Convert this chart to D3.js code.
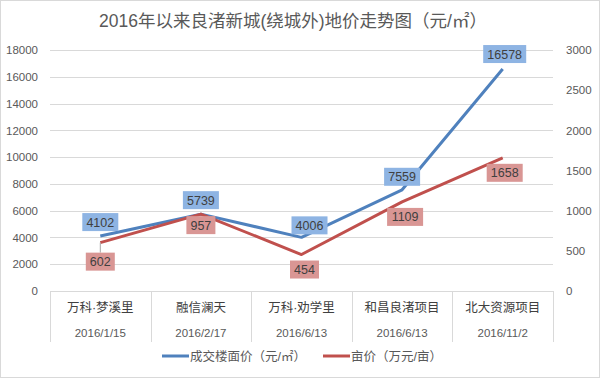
<!DOCTYPE html>
<html><head><meta charset="utf-8">
<script src="https://cdn.jsdelivr.net/npm/d3@7"></script>
<style>body{margin:0;background:#fff}svg{display:block}</style>
</head><body>
<script>
const title = "2016年以来良渚新城(绕城外)地价走势图（元/㎡）";
const categories = ["万科·梦溪里","融信澜天","万科·劝学里","和昌良渚项目","北大资源项目"];
const dates = ["2016/1/15","2016/2/17","2016/6/13","2016/6/13","2016/11/2"];
const floorPrice = [4102,5739,4006,7559,16578];
const muPrice = [602,957,454,1109,1658];
const leftTicks = [0,2000,4000,6000,8000,10000,12000,14000,16000,18000];
const rightTicks = [0,500,1000,1500,2000,2500,3000];
const legendLabels = ["成交楼面价（元/㎡）","亩价（万元/亩）"];

const W=600,H=378;
const svg=d3.select("body").append("svg").attr("width",W).attr("height",H);
svg.append("rect").attr("x",0.5).attr("y",0.5).attr("width",W-1).attr("height",H-1).attr("fill","#fff").attr("stroke","#d9d9d9");

const x0=50,x1=553,yTop=50,yBot=291;
const x=d3.scaleBand().domain(categories).range([x0,x1]);
const yL=d3.scaleLinear().domain([0,18000]).range([yBot,yTop]);
const yR=d3.scaleLinear().domain([0,3000]).range([yBot,yTop]);
const font="'Liberation Sans','Noto Sans CJK SC',sans-serif";
const cjk="'Noto Sans CJK SC',sans-serif";

svg.append("text").attr("x",293).attr("y",27).attr("text-anchor","middle")
 .attr("font-family",font).attr("font-size",17.5).attr("fill","#595959").text(title);

// gridlines
svg.append("g").selectAll("line").data(leftTicks.filter(d=>d>0)).join("line")
 .attr("x1",x0).attr("x2",x1).attr("y1",d=>Math.round(yL(d))+0.5).attr("y2",d=>Math.round(yL(d))+0.5)
 .attr("stroke","#d9d9d9");
// left axis
const gl=svg.append("g").attr("transform",`translate(${x0},0)`)
 .call(d3.axisLeft(yL).tickValues(leftTicks).tickSize(0).tickPadding(12).tickFormat(d3.format("d")));
gl.select(".domain").remove();
gl.selectAll("text").attr("font-family",font).attr("font-size",11.5).attr("fill","#595959");
// right axis
const gr=svg.append("g").attr("transform",`translate(${x1},0)`)
 .call(d3.axisRight(yR).tickValues(rightTicks).tickSize(0).tickPadding(13).tickFormat(d3.format("d")));
gr.select(".domain").remove();
gr.selectAll("text").attr("font-family",font).attr("font-size",11.5).attr("fill","#595959");

// category axis
svg.append("line").attr("x1",x0).attr("x2",x1).attr("y1",yBot+0.5).attr("y2",yBot+0.5).attr("stroke","#d9d9d9");
const bounds=categories.map(c=>x(c)).concat([x1]);
svg.append("g").selectAll("line").data(bounds).join("line")
 .attr("x1",d=>Math.round(d)+0.5).attr("x2",d=>Math.round(d)+0.5).attr("y1",yBot).attr("y2",342)
 .attr("stroke","#d9d9d9");
svg.append("g").selectAll("text").data(categories).join("text")
 .attr("x",d=>x(d)+x.bandwidth()/2).attr("y",312).attr("text-anchor","middle")
 .attr("font-family",font).attr("font-size",12.5).attr("fill","#404040").text(d=>d);
svg.append("g").selectAll("text").data(dates).join("text")
 .attr("x",(d,i)=>x(categories[i])+x.bandwidth()/2).attr("y",337).attr("text-anchor","middle")
 .attr("font-family",font).attr("font-size",11.5).attr("fill","#595959").text(d=>d);

const cx=i=>x(categories[i])+x.bandwidth()/2;
const lineL=d3.line().x((d,i)=>cx(i)).y(d=>yL(d));
const lineR=d3.line().x((d,i)=>cx(i)).y(d=>yR(d));
svg.append("path").attr("d",lineL(floorPrice)).attr("fill","none").attr("stroke","#4f81bd").attr("stroke-width",3).attr("stroke-linejoin","round");
svg.append("path").attr("d",lineR(muPrice)).attr("fill","none").attr("stroke","#c0504d").attr("stroke-width",3).attr("stroke-linejoin","round");

// data labels
const blueOff=[[0,-14],[0,-14],[8,-12],[0,-13],[2,-15]];
const redOff=[[0,19],[0,11],[3,15],[3,15],[2,15]];
function labels(vals,scale,offs,fill){
 const g=svg.append("g");
 vals.forEach((v,i)=>{
  const px=cx(i)+offs[i][0], py=scale(v)+offs[i][1];
  const txt=String(v);
  const w=txt.length*7+8, h=18;
  g.append("rect").attr("x",px-w/2).attr("y",py-h/2).attr("width",w).attr("height",h).attr("fill",fill);
  g.append("text").attr("x",px).attr("y",py+4.5).attr("text-anchor","middle")
   .attr("font-family",font).attr("font-size",12.5).attr("fill","#404040").text(txt);
 });
}
// leader line for first red label
svg.append("line").attr("x1",cx(0)).attr("x2",cx(0)).attr("y1",yR(muPrice[0])).attr("y2",yR(muPrice[0])+10).attr("stroke","#a6a6a6");
labels(floorPrice,yL,blueOff,"#8eb4e3");
labels(muPrice,yR,redOff,"#d99694");

// legend
const lg=svg.append("g");
const leg=[{x:162,c:"#4f81bd",t:legendLabels[0]},{x:323,c:"#c0504d",t:legendLabels[1]}];
leg.forEach(l=>{
 lg.append("line").attr("x1",l.x).attr("x2",l.x+27).attr("y1",356).attr("y2",356).attr("stroke",l.c).attr("stroke-width",3);
 lg.append("text").attr("x",l.x+28).attr("y",360.5).attr("font-family",font).attr("font-size",12.5).attr("fill","#595959").text(l.t);
});
</script>
</body></html>
